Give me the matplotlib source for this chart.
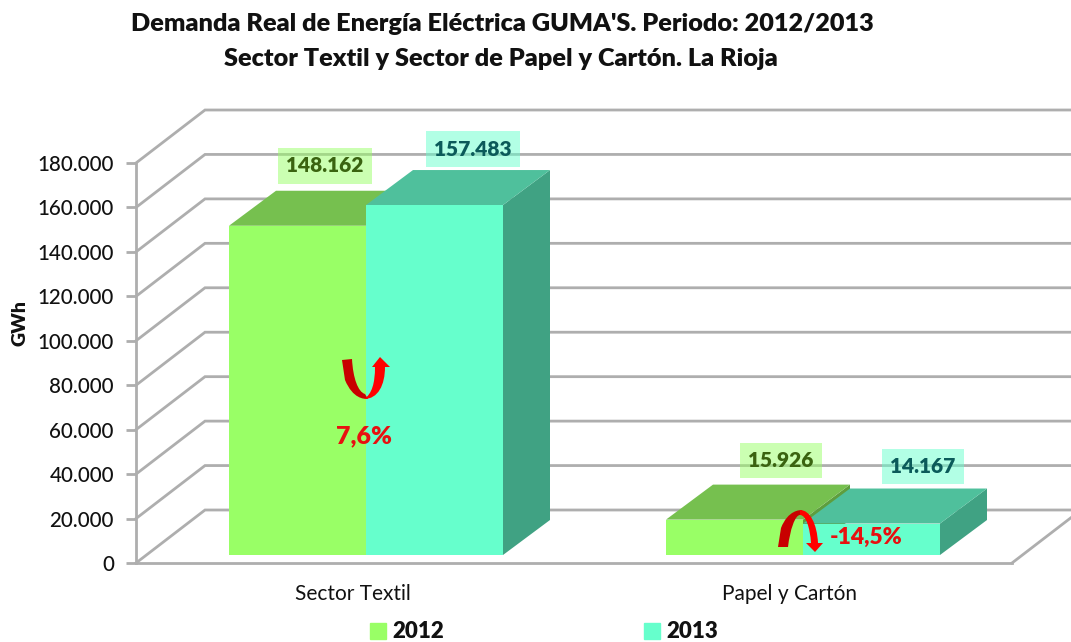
import matplotlib
matplotlib.use('Agg')
import matplotlib.pyplot as plt
from matplotlib.patches import Patch, PathPatch
from matplotlib.path import Path
from matplotlib.transforms import Affine2D

plt.rcParams['font.family'] = ['Lato', 'DejaVu Sans']

# data
categories = ['Sector Textil', 'Papel y Cartón']
years = ['2012', '2013']
demand_2012 = [148162, 15926]
demand_2013 = [157483, 14167]
change_labels = ['7,6%', '-14,5%']
y_ticks = [0, 20000, 40000, 60000, 80000, 100000, 120000, 140000, 160000, 180000]
y_tick_labels = ['0', '20.000', '40.000', '60.000', '80.000', '100.000', '120.000', '140.000', '160.000', '180.000']
title_lines = ["Demanda Real de Energía Eléctrica GUMA'S. Periodo: 2012/2013",
               "Sector Textil y Sector de Papel y Cartón. La Rioja"]

# scales of the fake 3D: 437 px between categories, 450 GWh per px
PX_X = 1 / 437
PX_Y = 450
GRAY = '#aeaeae'

fig = plt.figure(figsize=(10.71, 6.42), dpi=100)
ax = fig.add_axes([0, 0, 1, 1])
ax.patch.set_alpha(0)
ax.set_xlim(-353 * PX_X, (1071 - 353) * PX_X)
ax.set_ylim(-79 * PX_Y, 563 * PX_Y)

wall_x = -217 * PX_X
floor_end = 659 * PX_X
wall_dx = 69 * PX_X
wall_dy = 53 * PX_Y

# walls
for t in y_ticks:
    ax.plot([wall_x, wall_x + wall_dx, ax.get_xlim()[1]], [t, t + wall_dy, t + wall_dy],
            color=GRAY, lw=2, zorder=1, solid_joinstyle='miter')
ax.plot([floor_end, floor_end + wall_dx], [0, wall_dy], color=GRAY, lw=2, zorder=1)

for side in ['top', 'right']:
    ax.spines[side].set_visible(False)
ax.spines['left'].set_position(('data', wall_x))
ax.spines['left'].set_bounds(0, 180000)
ax.spines['bottom'].set_position(('data', 0))
ax.spines['bottom'].set_bounds(wall_x, floor_end)
for side in ['left', 'bottom']:
    ax.spines[side].set_color(GRAY)
    ax.spines[side].set_linewidth(2)

ax.set_yticks(y_ticks)
ax.set_yticklabels(y_tick_labels, fontsize=14.8, color='#111111', fontweight='medium')
ax.tick_params(axis='y', length=7, width=2, color=GRAY, pad=9)
ax.set_xticks(range(len(categories)))
ax.set_xticklabels(categories, fontsize=15, color='#111111')
ax.tick_params(axis='x', length=0, pad=15)


def draw_bar(center, value, front, top, side, before=True):
    width = 137 * PX_X
    depth_x = 47 * PX_X
    depth_y = 35 * PX_Y
    base = 8 * PX_Y
    x0 = center if not before else center - width
    x1 = x0 + width
    y1 = base + value
    ax.fill([x1, x1 + depth_x, x1 + depth_x, x1], [base, base + depth_y, y1 + depth_y, y1],
            color=side, lw=0, zorder=3)
    ax.fill([x0, x1, x1 + depth_x, x0 + depth_x], [y1, y1, y1 + depth_y, y1 + depth_y],
            color=top, lw=0, zorder=3)
    ax.fill([x0, x1, x1, x0], [base, base, y1, y1], color=front, lw=0, zorder=3)


centers = [13 * PX_X + i for i in range(len(categories))]
for i, c in enumerate(centers):
    draw_bar(c, demand_2012[i], '#99ff66', '#76c04f', '#5e9e3e', before=True)
    draw_bar(c, demand_2013[i], '#66ffcc', '#4fc09c', '#40a283', before=False)


def fmt(v):
    return f'{v:,}'.replace(',', '.')


# value labels, offsets in px from the top front of each bar
offsets_2012 = [(-41, 60), (-22, 59)]
offsets_2013 = [(107, 56), (120, 57)]
for i, c in enumerate(centers):
    ax.annotate(fmt(demand_2012[i]), (c, demand_2012[i] + 8 * PX_Y), xytext=offsets_2012[i],
                textcoords='offset pixels', ha='center', va='center', fontsize=15, fontweight='heavy',
                color='#3a6310', zorder=6,
                bbox=dict(boxstyle='square,pad=0.4', fc='#99ff66', ec='none', alpha=0.5))
    ax.annotate(fmt(demand_2013[i]), (c, demand_2013[i] + 8 * PX_Y), xytext=offsets_2013[i],
                textcoords='offset pixels', ha='center', va='center', fontsize=15, fontweight='heavy',
                color='#0b5a5a', zorder=6,
                bbox=dict(boxstyle='square,pad=0.4', fc='#66ffcc', ec='none', alpha=0.5))

# change arrows, drawn in image pixels
pixels = Affine2D().scale(1, -1).translate(0, 642)
M, L, C, Z = Path.MOVETO, Path.LINETO, Path.CURVE4, Path.CLOSEPOLY


def shape(verts, codes, color):
    ax.add_patch(PathPatch(Path(verts, codes), fc=color, ec='none', transform=pixels, zorder=5))


# up arrow
shape([(342, 360), (352, 359), (353, 378), (358, 392), (365, 394), (368, 399), (364, 399),
      (353, 399), (345, 380), (342, 360), (342, 360)],
      [M, L, C, C, C, L, C, C, C, L, Z], '#c80000')
shape([(372, 367), (380, 357), (390, 367), (385, 367), (385, 385), (378, 399), (364, 399),
      (372, 394), (375, 383), (375, 367), (372, 367)],
      [M, L, L, L, C, C, C, C, C, L, Z], '#ff0000')
# down arrow
shape([(778, 547), (788, 547), (790, 530), (795, 515), (800, 515), (802, 510), (800, 510),
      (788, 510), (781, 528), (778, 547), (778, 547)],
      [M, L, C, C, C, L, C, C, C, L, Z], '#c80000')
shape([(800, 510), (810, 510), (817, 524), (818, 543), (823, 543), (815, 552), (806, 543),
      (811, 543), (810, 528), (806, 515), (800, 515), (800, 510)],
      [M, C, C, C, L, L, L, L, C, C, C, Z], '#ff0000')

ax.annotate(change_labels[0], (centers[0], 0), xytext=(-2, 127), textcoords='offset pixels',
            ha='center', va='center', fontsize=18, fontweight='heavy', color='#e81010', zorder=6)
ax.annotate(change_labels[1], (centers[1], 0), xytext=(63, 26), textcoords='offset pixels',
            ha='center', va='center', fontsize=16.5, fontweight='heavy', color='#e81010', zorder=6)

ax.text(-333 * PX_X, 108000, 'GWh', rotation=90, ha='center', va='center',
        fontsize=14, fontweight='heavy', color='#111111')

fig.text(502 / 1071, 1 - 24 / 642, title_lines[0], ha='center', va='center',
         fontsize=18.2, fontweight='heavy', color='#111111')
fig.text(501 / 1071, 1 - 59 / 642, title_lines[1], ha='center', va='center',
         fontsize=18.2, fontweight='heavy', color='#111111')

handles = [Patch(color='#99ff66', label=years[0]), Patch(color='#66ffcc', label=years[1])]
fig.legend(handles=handles, loc='center', bbox_to_anchor=(544 / 1071, 1 - 632 / 642), ncol=2,
           frameon=False, handlelength=0.7, handleheight=0.7, handletextpad=0.3,
           columnspacing=9, prop={'size': 16, 'weight': 'heavy'}, labelcolor='#111111',
           borderpad=0, borderaxespad=0)

plt.savefig('out.png', dpi=100)
